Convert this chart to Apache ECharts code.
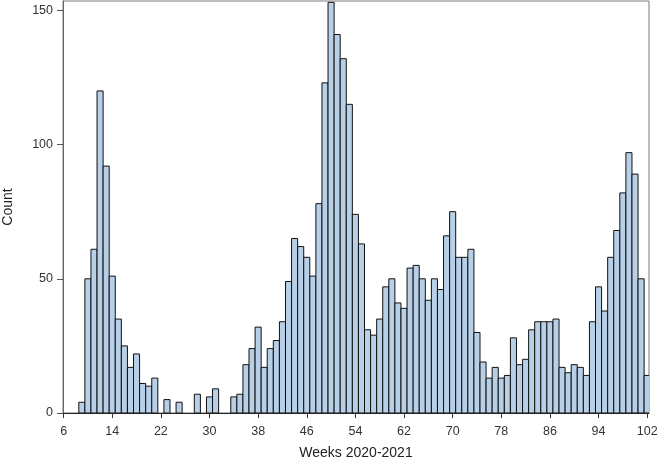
<!DOCTYPE html>
<html>
<head>
<meta charset="utf-8">
<script src="https://cdn.jsdelivr.net/npm/echarts@6/dist/echarts.min.js"></script>
<style>
html,body{margin:0;padding:0;background:#fff;}
#chart{width:658px;height:462px;}
</style>
</head>
<body>
<div id="chart"></div>
<script>
const weeks = [9,10,11,12,13,14,15,16,17,18,19,20,21,22,23,24,25,26,27,28,29,30,31,32,33,34,35,36,37,38,39,40,41,42,43,44,45,46,47,48,49,50,51,52,53,54,55,56,57,58,59,60,61,62,63,64,65,66,67,68,69,70,71,72,73,74,75,76,77,78,79,80,81,82,83,84,85,86,87,88,89,90,91,92,93,94,95,96,97,98,99,100,101,102];
const counts = [4,50,61,120,92,51,35,25,17,22,11,10,13,0,5,0,4,0,0,7,0,6,9,0,0,6,7,18,24,32,17,24,27,34,49,65,62,58,51,78,123,153,141,132,115,74,63,31,29,35,47,50,41,39,54,55,50,42,50,46,66,75,58,58,61,30,19,13,17,13,14,28,18,20,31,34,34,34,35,17,15,18,17,14,34,47,38,58,68,82,97,89,50,14];
const xTicks = [6,14,22,30,38,46,54,62,70,78,86,94,102];
const yTicks = [0,50,100,150];

const chart = echarts.init(document.getElementById('chart'), null, {renderer:'canvas'});
const font = 'Liberation Sans, Arial, sans-serif';
chart.setOption({
  animation: false,
  grid: {left: 63, top: 1, right: 9, bottom: 49, show: true, borderColor: '#7a7a7a', borderWidth: 1, containLabel: false, outerBoundsMode: 'none'},
  xAxis: {
    type: 'value', min: 5.9, max: 102.3,
    name: 'Weeks 2020-2021', nameLocation: 'middle', nameGap: 33,
    nameTextStyle: {fontFamily: font, fontSize: 14, color: '#222'},
    axisLine: {show: true, onZero: false, lineStyle: {color: '#222', width: 1}},
    axisTick: {show: true, length: 5, customValues: xTicks, lineStyle: {color: '#333'}},
    axisLabel: {customValues: xTicks, fontFamily: font, fontSize: 12.5, color: '#333', margin: 12},
    splitLine: {show: false}
  },
  yAxis: {
    type: 'value', min: 0, max: 153.5,
    name: 'Count', nameLocation: 'middle', nameGap: 48, nameRotate: 90,
    nameTextStyle: {fontFamily: font, fontSize: 14, color: '#222'},
    axisLine: {show: true, lineStyle: {color: '#666', width: 1}},
    axisTick: {show: true, length: 6, customValues: yTicks, lineStyle: {color: '#555'}},
    axisLabel: {customValues: yTicks, fontFamily: font, fontSize: 12.5, color: '#333', margin: 10},
    splitLine: {show: false}
  },
  series: [{
    type: 'custom',
    clip: true,
    data: weeks.map((w, i) => [w, counts[i]]),
    encode: {x: 0, y: 1},
    renderItem: function (params, api) {
      const w = api.value(0), c = api.value(1);
      if (!c) return null;
      const p0 = api.coord([w - 0.5, 0]);
      const p1 = api.coord([w + 0.5, c]);
      return {
        type: 'rect',
        shape: {x: p0[0], y: p1[1], width: p1[0] - p0[0], height: p0[1] - p1[1]},
        style: {fill: '#b8cfe8', stroke: '#111', lineWidth: 1}
      };
    }
  }]
});
</script>
</body>
</html>
